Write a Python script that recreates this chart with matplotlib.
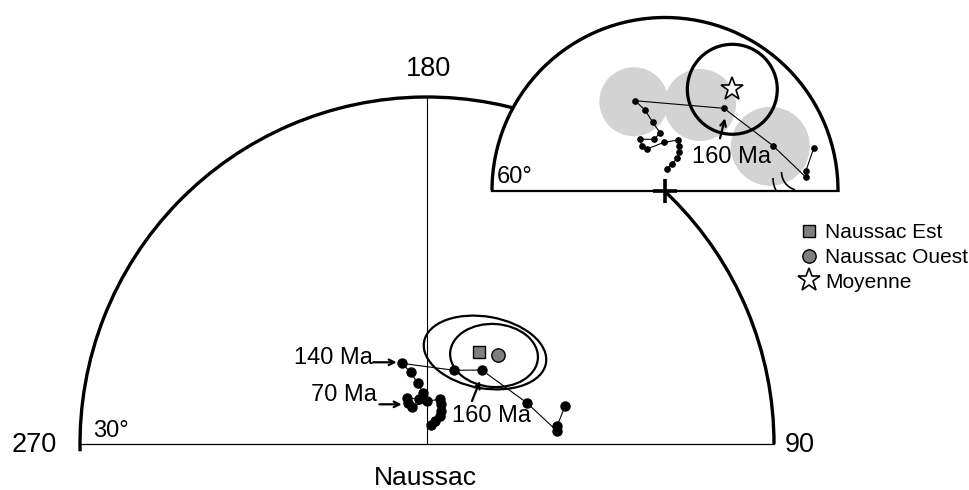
import matplotlib
matplotlib.use("Agg")
from matplotlib import pyplot as plt
from matplotlib.patches import Arc, Wedge, Circle, Ellipse
from matplotlib.lines import Line2D

plt.rcParams['font.family'] = ['Liberation Sans', 'DejaVu Sans']

# ---- data (projected pole positions, degrees from the pole: east, north) ----
# main diagram (outer circle = 30 deg latitude)
apwp_x = [0.64, 1.38, 2.25, 2.42, 2.42, 2.25, 0.05, -2.54, -3.23, -3.51, -1.33,
          -0.64, -1.61, -2.85, -4.37, 4.72, 9.46, 17.24, 22.48, 22.48, 23.91]
apwp_y = [3.29, 4.03, 4.84, 5.71, 6.92, 7.73, 7.44, 6.45, 7.14, 8.01, 7.73,
          8.87, 10.50, 12.45, 13.95, 12.74, 12.80, 7.14, 2.25, 3.11, 6.62]
est_pole = (8.99, 15.96)
ouest_pole = (12.33, 15.39)
# confidence ellipses: centre x, centre y, width, height, angle
est_ellipse = (10.03, 15.82, 21.4, 12.4, -10)
ouest_ellipse = (11.59, 15.30, 15.2, 10.9, -4)

# inset diagram (outer circle = 60 deg latitude)
inset_x = [0.29, 1.16, 2.13, 2.48, 2.48, 2.31, -0.17, -3.07, -4.04, -4.34, -1.86,
           -0.87, -2.13, -3.47, -5.20, 10.23, 18.78, 24.45, 24.45, 25.78]
inset_y = [3.73, 4.60, 5.58, 6.62, 7.72, 8.76, 8.36, 7.20, 7.72, 8.88, 8.88,
           10.02, 11.83, 13.96, 15.57, 14.25, 7.72, 2.29, 3.43, 7.32]
gray_x = [-5.41, 6.07, 18.26]
gray_y = [15.40, 14.83, 7.66]
gray_r = [5.98, 6.24, 6.85]
mean_pole = (11.67, 17.55)
mean_a95 = 7.8

legend_labels = ["Naussac Est", "Naussac Ouest", "Moyenne"]

W, H = 970, 490
fig = plt.figure(figsize=(W / 100, H / 100), dpi=100)


def make_axes(cx, cy, r_px, r_deg, z):
    s = r_px / r_deg
    ax = fig.add_axes([0, 0, 1, 1], zorder=z)
    ax.set_xlim(-cx / s, (W - cx) / s)
    ax.set_ylim(-(H - cy) / s, cy / s)
    ax.axis('off')
    return ax


# ---------------- main diagram ----------------
ax = make_axes(427, 444, 347, 60, 1)
ax.add_patch(Arc((0, 0), 120, 120, theta1=0, theta2=181.2, lw=2.4, color='k'))
ax.plot([-60, 60], [0, 0], color='k', lw=0.9)
ax.plot([0, 0], [0, 60], color='k', lw=0.8)

for (ex, ey, ew, eh, ea) in [est_ellipse, ouest_ellipse]:
    ax.add_patch(Ellipse((ex, ey), ew, eh, angle=ea, fill=False, lw=1.6, color='k'))

ax.plot(apwp_x, apwp_y, color='k', lw=0.8, marker='o', ms=6.5)
ax.plot(*est_pole, marker='s', ms=9, mfc='#808080', mec='k', mew=1)
ax.plot(*ouest_pole, marker='o', ms=9.6, mfc='#808080', mec='k', mew=1)

arrow = dict(arrowstyle='->', color='k', lw=1.6, shrinkA=0, shrinkB=0)
ax.annotate('', xy=(-5.24, 14.13), xytext=(-9.29, 14.13), arrowprops=arrow)
ax.text(-9.4, 14.9, "140 Ma", fontsize=17, ha='right', va='center')
ax.annotate('', xy=(-4.37, 6.86), xytext=(-8.23, 6.86), arrowprops=arrow)
ax.text(-8.6, 8.47, "70 Ma", fontsize=17, ha='right', va='center')
ax.annotate('', xy=(9.16, 10.89), xytext=(7.78, 7.44), arrowprops=arrow)
ax.text(4.27, 4.84, "160 Ma", fontsize=17, ha='left', va='center')

ax.text(-57.75, 2.33, "30°", fontsize=17, ha='left', va='center')
ax.text(-67.9, -0.17, "270", fontsize=19.5, ha='center', va='center')
ax.text(64.5, -0.17, "90", fontsize=19.5, ha='center', va='center')
ax.text(0.2, 64.8, "180", fontsize=19.5, ha='center', va='center')
ax.text(-0.3, -5.88, "Naussac", fontsize=19, ha='center', va='center')

# ---------------- inset diagram ----------------
ai = make_axes(665, 190.5, 173, 30, 2)
ai.add_patch(Wedge((0, 0), 30, 0, 180, facecolor='white', edgecolor='none'))
for gx, gy, gr in zip(gray_x, gray_y, gray_r):
    ai.add_patch(Circle((gx, gy), gr, facecolor='#d3d3d3', edgecolor='none'))
ai.add_patch(Circle(mean_pole, mean_a95, fill=False, lw=2.3, color='k'))
ai.add_patch(Arc((0, 0), 60, 60, theta1=-0.5, theta2=180, lw=2.4, color='k'))
ai.plot([-30, 30], [0, 0], color='k', lw=1.6)
ai.add_patch(Arc((23.41, 2.17), 9.36, 9.36, theta1=180, theta2=207, lw=1.2, color='k'))
ai.add_patch(Arc((23.41, 3.21), 6.4, 6.4, theta1=180, theta2=254, lw=1.2, color='k'))

ai.plot(inset_x, inset_y, color='k', lw=0.8, marker='o', ms=3.8)
ai.plot(*mean_pole, marker='*', ms=17, mfc='white', mec='k', mew=1.2)
ai.plot(0, 0, marker='+', ms=17, mew=2.6, color='k')

ai.annotate('', xy=(10.40, 12.52), xytext=(9.54, 9.05), arrowprops=arrow)
ai.text(4.63, 5.86, "160 Ma", fontsize=17, ha='left', va='center')
ai.text(-29.2, 2.39, "60°", fontsize=17, ha='left', va='center')

# ---------------- legend ----------------
handles = [
    Line2D([], [], ls='none', marker='s', ms=9, mfc='#808080', mec='k'),
    Line2D([], [], ls='none', marker='o', ms=9.6, mfc='#808080', mec='k'),
    Line2D([], [], ls='none', marker='*', ms=17, mfc='white', mec='k', mew=1.2),
]
fig.legend(handles, legend_labels, loc='upper left', bbox_to_anchor=(800 / W, 1 - 223 / H),
           frameon=False, fontsize=15, handlelength=0.9, handletextpad=0.3,
           labelspacing=0.28, borderaxespad=0, borderpad=0)

fig.savefig("out.png", dpi=100)
